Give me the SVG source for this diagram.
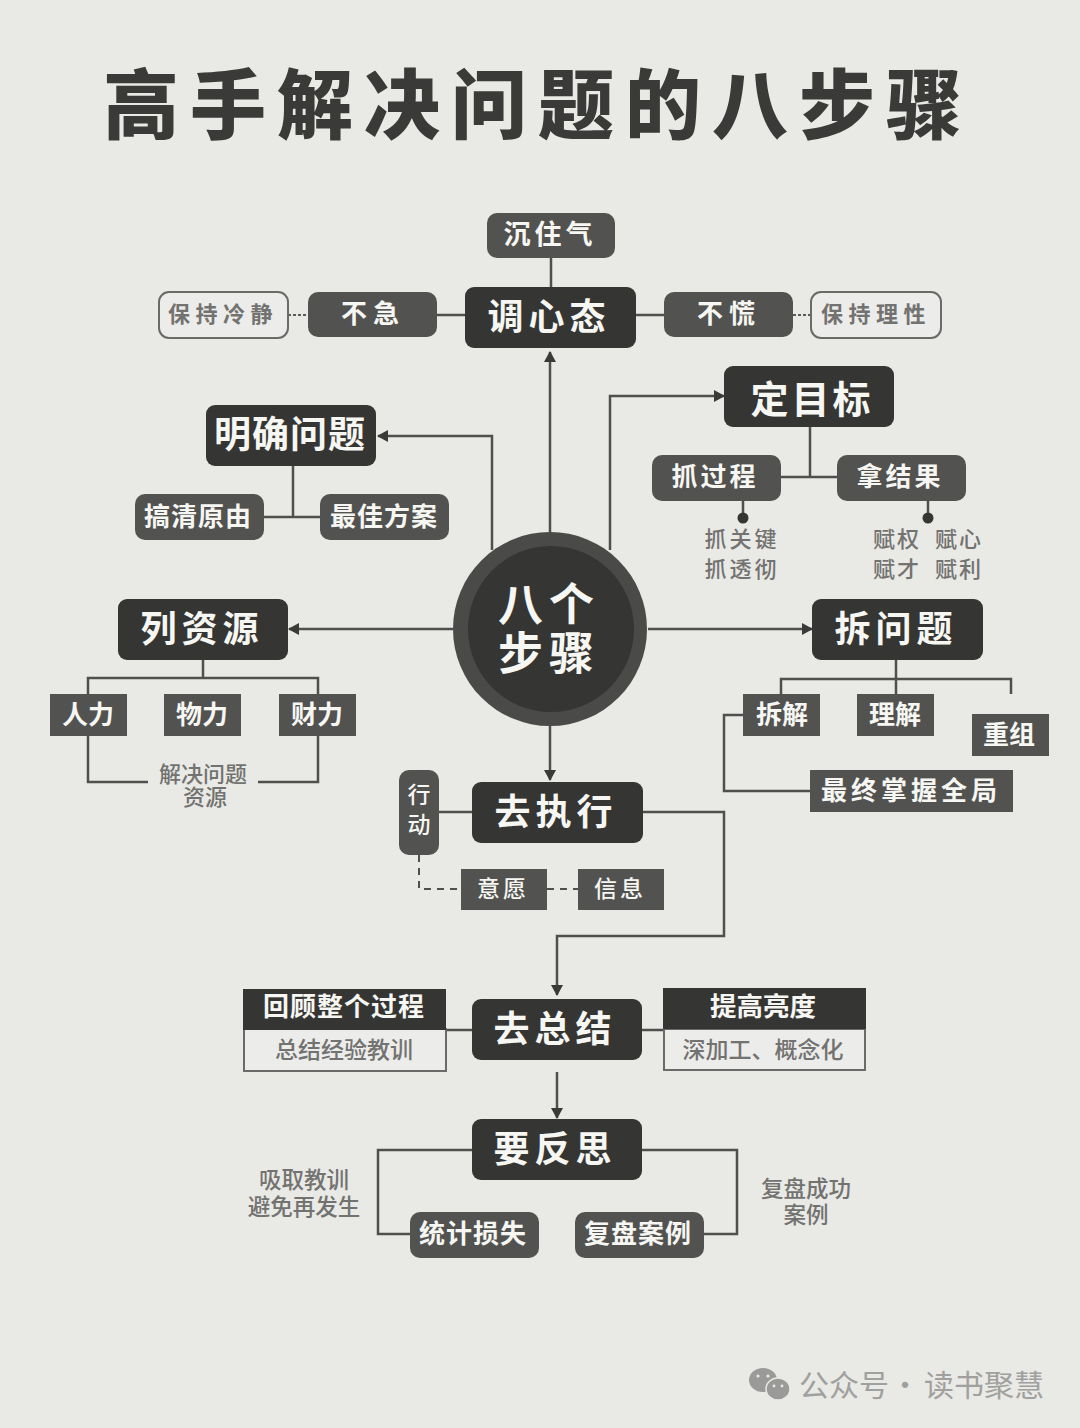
<svg xmlns="http://www.w3.org/2000/svg" width="1080" height="1428" viewBox="0 0 1080 1428">
<style>
text{font-family:"Noto Sans CJK SC","Noto Sans",sans-serif;text-anchor:middle;dominant-baseline:central}
.w{fill:#f6f6f2;font-weight:700}
.g{fill:#727270;font-weight:500}
.big{font-size:36px;letter-spacing:5px;font-weight:700}
.mid{font-size:26px;letter-spacing:3px}
.dark{fill:#353533}
.grey{fill:#525250}
.out{fill:#ececea;stroke:#6a6a68;stroke-width:2}
.line{fill:none;stroke:#4f4f4d;stroke-width:2.5}
.dash{fill:none;stroke:#4f4f4d;stroke-width:2;stroke-dasharray:7 6}
.dot{fill:none;stroke:#5a5a58;stroke-width:2;stroke-dasharray:3 2}
.arr{marker-end:url(#a)}
</style>
<defs><marker id="a" markerUnits="userSpaceOnUse" markerWidth="12" markerHeight="12" refX="10" refY="6" orient="auto"><path d="M0 0L11 6L0 12Z" fill="#3a3a38"/></marker></defs>
<rect width="1080" height="1428" fill="#e9e9e5"/>
<text id="title" x="538" y="100" font-size="76" font-weight="800" letter-spacing="11" fill="#3a3a38">高手解决问题的八步骤</text>
<g id="connectors">
<path class="line" d="M551 258V287M437 315H465M636 315H664M293 466V517M264 517H320M810 427V477M781 477H837M743 501V518M928 501V518"/>
<path class="line arr" d="M550 533V352"/>
<path class="line arr" d="M492 550V436H378"/>
<path class="line arr" d="M610 550V396H724"/>
<path class="line arr" d="M648 629H812"/>
<path class="line arr" d="M453 629H289"/>
<path class="line arr" d="M550 726V780"/>
<path class="line" d="M203 660V678M88 694V678H318V694M88 736V782H148M258 782H318V736"/>
<path class="line" d="M896 660V694M781 694V679H1011V694M743 715H724V791H810"/>
<path class="line" d="M439 812H472"/>
<path class="line arr" d="M643 812H724V936H557V995"/>
<path class="dash" d="M419 855V889H461M547 889H578"/>
<path class="line" d="M446 1030H472M642 1030H663"/>
<path class="line arr" d="M557 1072V1118"/>
<path class="line" d="M472 1150H378V1234H410M642 1150H737V1234H704"/>
<path class="dot" d="M288 315H308M793 315H811"/>
<circle class="dark" cx="743" cy="518" r="5.5"/><circle class="dark" cx="928" cy="518" r="5.5"/>
</g>
<g id="n-chenzhuqi"><rect class="grey" x="487" y="213" width="128" height="45" rx="10"/><text class="w" x="550" y="232" font-size="27" letter-spacing="4">沉住气</text></g>
<g id="n-tiaoxintai"><rect class="dark" x="465" y="287" width="171" height="61" rx="9"/><text class="w big" x="549" y="314">调心态</text></g>
<g id="n-buji"><rect class="grey" x="308" y="292" width="129" height="45" rx="10"/><text class="w mid" x="373" y="311" style="letter-spacing:6px">不急</text></g>
<g id="n-baochi1"><rect class="out" x="159" y="292" width="129" height="46" rx="10"/><text class="g" x="223" y="312" font-size="22" letter-spacing="5.5" style="font-weight:700">保持冷静</text></g>
<g id="n-buhuang"><rect class="grey" x="664" y="292" width="129" height="45" rx="10"/><text class="w mid" x="729" y="311" style="letter-spacing:6px">不慌</text></g>
<g id="n-baochi2"><rect class="out" x="811" y="292" width="130" height="46" rx="10"/><text class="g" x="876" y="312" font-size="22" letter-spacing="5.5" style="font-weight:700">保持理性</text></g>
<g id="n-mingque"><rect class="dark" x="206" y="405" width="170" height="61" rx="9"/><text class="w big" x="290" y="432" style="letter-spacing:1px;font-size:37px">明确问题</text></g>
<g id="n-gaoqing"><rect class="grey" x="135" y="494" width="129" height="46" rx="10"/><text class="w mid" x="198" y="514" style="letter-spacing:1px">搞清原由</text></g>
<g id="n-zuijia"><rect class="grey" x="320" y="494" width="129" height="46" rx="10"/><text class="w mid" x="384" y="514" style="letter-spacing:1px">最佳方案</text></g>
<g id="n-dingmubiao"><rect class="dark" x="724" y="366" width="170" height="61" rx="9"/><text class="w big" x="812" y="396" style="font-size:38px;letter-spacing:3px">定目标</text></g>
<g id="n-zhuaguocheng"><rect class="grey" x="652" y="455" width="129" height="46" rx="10"/><text class="w mid" x="715" y="474">抓过程</text>
<text class="g" font-size="22" letter-spacing="3"><tspan x="742" y="537">抓关键</tspan><tspan x="742" y="567">抓透彻</tspan></text></g>
<g id="n-najieguo"><rect class="grey" x="837" y="455" width="129" height="46" rx="10"/><text class="w mid" x="900" y="474">拿结果</text>
<text class="g" font-size="22" letter-spacing="2" xml:space="preserve"><tspan x="928" y="537">赋权  赋心</tspan><tspan x="928" y="567">赋才  赋利</tspan></text></g>
<g id="n-center"><circle cx="550" cy="629" r="97" fill="#4a4a48"/><circle cx="551" cy="629" r="83" class="dark"/><text class="w" font-size="45" letter-spacing="6"><tspan x="549" y="601">八个</tspan><tspan x="549" y="650">步骤</tspan></text></g>
<g id="n-liziyuan"><rect class="dark" x="118" y="599" width="170" height="61" rx="9"/><text class="w big" x="202" y="626">列资源</text></g>
<g id="n-renli"><rect class="grey" x="50" y="694" width="77" height="42"/><text class="w" x="88" y="712" font-size="26">人力</text></g>
<g id="n-wuli"><rect class="grey" x="164" y="694" width="77" height="42"/><text class="w" x="202" y="712" font-size="26">物力</text></g>
<g id="n-caili"><rect class="grey" x="279" y="694" width="77" height="42"/><text class="w" x="317" y="712" font-size="26">财力</text></g>
<text class="g" font-size="22"><tspan x="203" y="772">解决问题</tspan><tspan x="205" y="795">资源</tspan></text>
<g id="n-chaiwenti"><rect class="dark" x="812" y="599" width="171" height="61" rx="9"/><text class="w big" x="896" y="626">拆问题</text></g>
<g id="n-chaijie"><rect class="grey" x="743" y="694" width="77" height="42"/><text class="w" x="782" y="712" font-size="26">拆解</text></g>
<g id="n-lijie"><rect class="grey" x="857" y="694" width="77" height="42"/><text class="w" x="895" y="712" font-size="26">理解</text></g>
<g id="n-chongzu"><rect class="grey" x="972" y="714" width="77" height="42"/><text class="w" x="1009" y="732" font-size="26">重组</text></g>
<g id="n-zuizhong"><rect class="grey" x="810" y="770" width="203" height="42"/><text class="w" x="911" y="788" font-size="26" letter-spacing="4">最终掌握全局</text></g>
<g id="n-xingdong"><rect class="grey" x="399" y="770" width="40" height="85" rx="10"/><text class="w" font-size="23" style="font-weight:500"><tspan x="419" y="793">行</tspan><tspan x="419" y="823">动</tspan></text></g>
<g id="n-qvzhixing"><rect class="dark" x="472" y="782" width="171" height="61" rx="9"/><text class="w big" x="556" y="809">去执行</text></g>
<g id="n-yiyuan"><rect class="grey" x="461" y="869" width="86" height="41"/><text class="w" x="503" y="887" font-size="23" letter-spacing="3" style="font-weight:500">意愿</text></g>
<g id="n-xinxi"><rect class="grey" x="578" y="869" width="86" height="41"/><text class="w" x="620" y="887" font-size="23" letter-spacing="3" style="font-weight:500">信息</text></g>
<g id="n-huigu"><rect class="out" x="244" y="1029" width="202" height="42"/><rect class="dark" x="243" y="989" width="203" height="41"/><text class="w" x="344" y="1004" font-size="26" letter-spacing="1">回顾整个过程</text><text class="g" x="344" y="1048" font-size="23">总结经验教训</text></g>
<g id="n-qvzongjie"><rect class="dark" x="472" y="999" width="170" height="61" rx="9"/><text class="w big" x="555" y="1026">去总结</text></g>
<g id="n-tigao"><rect class="out" x="664" y="1029" width="201" height="41"/><rect class="dark" x="663" y="988" width="203" height="41"/><text class="w" x="763" y="1004" font-size="26.5">提高亮度</text><text class="g" x="763" y="1048" font-size="23">深加工、概念化</text></g>
<g id="n-yaofansi"><rect class="dark" x="472" y="1119" width="170" height="61" rx="9"/><text class="w big" x="555" y="1146">要反思</text></g>
<g id="n-tongji"><rect class="grey" x="410" y="1212" width="129" height="46" rx="10"/><text class="w mid" x="473" y="1231" style="letter-spacing:1px">统计损失</text></g>
<g id="n-fupan"><rect class="grey" x="575" y="1212" width="129" height="46" rx="10"/><text class="w mid" x="638" y="1231" style="letter-spacing:1px">复盘案例</text></g>
<text class="g" font-size="22.5"><tspan x="304" y="1178">吸取教训</tspan><tspan x="304" y="1205">避免再发生</tspan></text>
<text class="g" font-size="22.5"><tspan x="806" y="1187">复盘成功</tspan><tspan x="806" y="1213">案例</tspan></text>
<g id="watermark"><ellipse cx="763" cy="1380" rx="14" ry="12" fill="#9a9a98"/><ellipse cx="778" cy="1389" rx="12" ry="11" fill="#9a9a98" stroke="#e9e9e5" stroke-width="1.5"/><circle cx="758" cy="1376" r="1.6" fill="#e9e9e5"/><circle cx="768" cy="1376" r="1.6" fill="#e9e9e5"/><circle cx="774" cy="1386" r="1.4" fill="#e9e9e5"/><circle cx="782" cy="1386" r="1.4" fill="#e9e9e5"/><text font-size="30" fill="#a0a09e" style="font-weight:400"><tspan x="844" y="1383">公众号</tspan><tspan x="905" y="1383">·</tspan><tspan x="984" y="1383">读书聚慧</tspan></text></g>
</svg>
